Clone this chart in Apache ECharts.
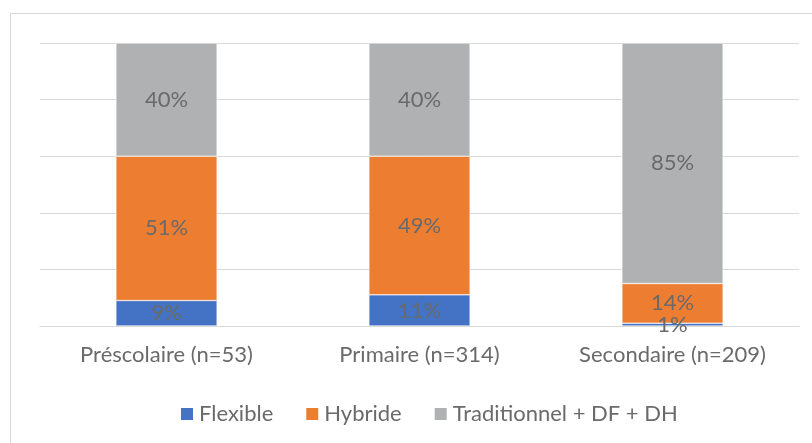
<!DOCTYPE html>
<html>
<head>
<meta charset="utf-8">
<script src="https://cdn.jsdelivr.net/npm/echarts@6/dist/echarts.min.js"></script>
<style>
  html, body { margin: 0; padding: 0; background: #fff; }
  #chart { width: 812px; height: 443px; }
</style>
</head>
<body>
<div id="chart"></div>
<script>
// Share of each schedule model by school level (percent)
const categories = ['Préscolaire (n=53)', 'Primaire (n=314)', 'Secondaire (n=209)'];
const flexible = [9, 11, 1];
const hybride = [51, 49, 14];
const traditionnel = [40, 40, 85];
const seriesNames = ['Flexible', 'Hybride', 'Traditionnel + DF + DH'];
const colors = ['#4472C4', '#ED7D31', '#B0B1B2'];

const font = 'Lato, "Open Sans", sans-serif';
const textColor = '#6a6a6a';
const fs = 22;

const chart = echarts.init(document.getElementById('chart'));

function makeSeries(name, data, color) {
  return {
    name: name,
    type: 'bar',
    stack: 'total',
    barWidth: '40%',
    data: data,
    itemStyle: { color: color, borderColor: '#ffffff', borderWidth: 0.5 },
    label: {
      show: true,
      position: 'inside',
      formatter: '{c}%',
      color: textColor,
      fontSize: fs,
      fontFamily: font
    }
  };
}

chart.setOption({
  animation: false,
  textStyle: { fontFamily: font },
  graphic: [{
    type: 'rect',
    shape: { x: 10.5, y: 13.5, width: 900, height: 500 },
    style: { fill: 'none', stroke: '#D9D9D9', lineWidth: 1 },
    z: -1
  }],
  grid: { left: 40, right: 13, top: 43, bottom: 117 },
  xAxis: {
    type: 'category',
    data: categories,
    axisTick: { show: false },
    axisLine: { lineStyle: { color: '#D9D9D9', width: 1 } },
    axisLabel: { color: textColor, fontSize: fs, margin: 18, fontFamily: font }
  },
  yAxis: {
    type: 'value',
    min: 0,
    max: 100,
    interval: 20,
    axisLabel: { show: false },
    axisLine: { show: false },
    axisTick: { show: false },
    splitLine: { lineStyle: { color: '#D9D9D9', width: 1 } }
  },
  legend: {
    top: 398,
    left: 174,
    icon: 'rect',
    itemWidth: 14,
    itemHeight: 14,
    itemGap: 31,
    itemTextGap: 6,
    textStyle: { color: textColor, fontSize: fs, fontFamily: font },
    data: seriesNames
  },
  series: [
    makeSeries(seriesNames[0], flexible, colors[0]),
    makeSeries(seriesNames[1], hybride, colors[1]),
    makeSeries(seriesNames[2], traditionnel, colors[2])
  ]
});
</script>
</body>
</html>
